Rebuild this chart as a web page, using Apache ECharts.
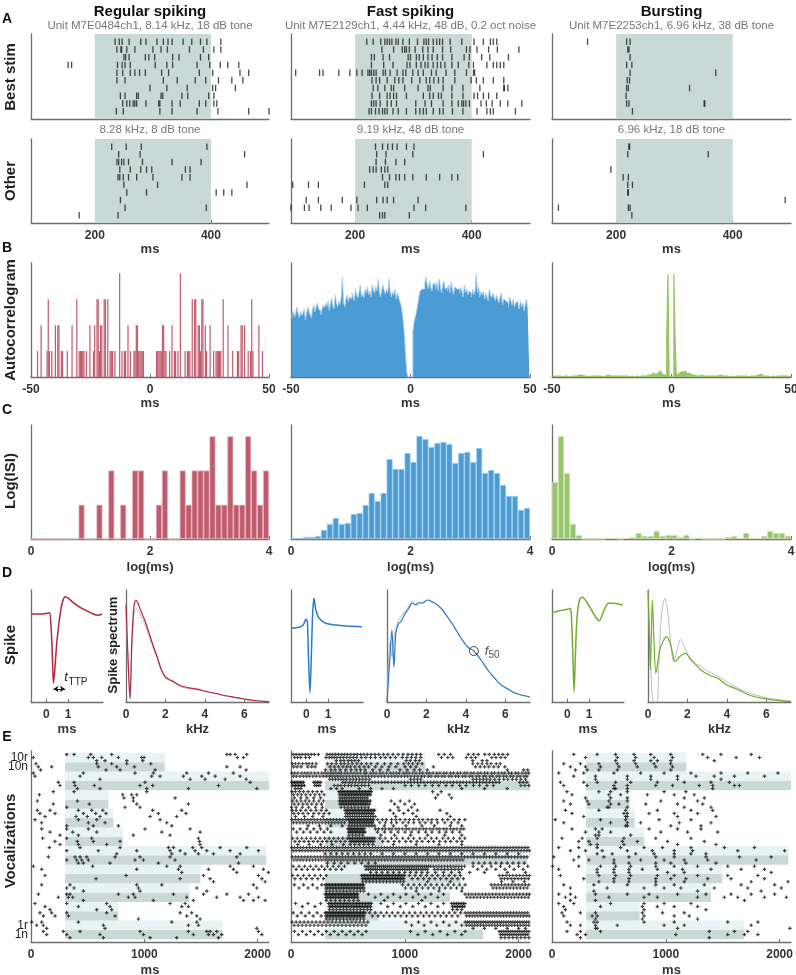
<!DOCTYPE html>
<html>
<head>
<meta charset="utf-8">
<script src="https://cdn.jsdelivr.net/npm/echarts@6/dist/echarts.min.js"></script>
<style>html,body{margin:0;padding:0;background:#fff}#chart{width:796px;height:975px}</style>
</head>
<body>
<div id="chart"></div>
<script>
const FONT = '"Liberation Sans", Arial, Helvetica, sans-serif';
const AX = '#6e6e6e';
const TXT = '#333333';
const SHADE = '#c9d9d6';
const BAR_DARK = '#cad9d6';
const BAR_LIGHT = '#e8f3f3';

const colTitles = ['Regular spiking', 'Fast spiking', 'Bursting'];
const bestTitles = ['Unit M7E0484ch1, 8.14 kHz, 18 dB tone', 'Unit M7E2129ch1, 4.44 kHz, 48 dB, 0.2 oct noise', 'Unit M7E2253ch1, 6.96 kHz, 38 dB tone'];
const otherTitles = ['8.28 kHz, 8 dB tone', '9.19 kHz, 48 dB tone', '6.96 kHz, 18 dB tone'];
const stimWin = [200, 400];

// ---- A: tone rasters, spike times (ms), one array per trial, top trial first ----
const rasterRSBest = [
  [235,242,247,259,279,288,307,318,326,333,352,367,382,393,417],
  [238,245,246,255,269,300,314,325,363,387,405,417],
  [250,253,259,287,293,303,334,345,382,396],
  [154,160,239,247,252,261,304,324,334,376,398,416,429,448],
  [238,248,261,269,277,287,315,327,380,403,450,465],
  [238,252,318,342,373,391,413,436,455],
  [295,324,359,403,408,442],
  [244,252,272,275,314,317,350,360,396,405],
  [248,255,260,266,269,272,288,310,312,333,347,380,391,405,410],
  [237,249,312,333,376,412,465,500]
];
const rasterRSOther = [
  [229,254,280,393],
  [241,278,458],
  [238,241,246,250,258,282,333,383],
  [243,261,279,289,298,356,364],
  [240,243,249,258,272,300,350,364],
  [250,308,462],
  [255,289,409,422,436],
  [244],
  [252,392],
  [173,240]
];
const rasterFSBest = [
  [220,231,244,251,255,259,263,270,274,282,293,307,318,322,326,334,340,345,350,363,383,404,420,432,437,443],
  [246,266,281,285,288,293,303,316,325,334,350,364,391,397,409,429,444,481],
  [228,233,248,259,291,295,305,310,317,325,332,341,350,366,387,396,417,431,463],
  [228,249,265,289,294,305,313,320,325,334,341,347,354,366,377,395,403,426,437,443,449,455],
  [98,139,145,172,191,203,212,222,225,228,232,236,248,252,260,272,282,287,299,308,317,331,339,356,371,391,403,405],
  [229,236,242,255,268,275,282,297,311,322,328,335,343,351,371,399,408,420,437,455],
  [231,239,251,262,266,285,308,325,329,351,366,385,414,455,456,462],
  [229,242,255,260,266,271,288,317,328,334,343,348,366,385,404,410,420,429,443],
  [228,232,236,243,255,262,271,304,320,331,351,366,377,383,386,390,396,416,425,435,449,462,486],
  [224,228,235,241,247,251,255,265,274,288,304,311,317,322,334,345,351,367,385,409,426,432,437,475]
];
const rasterFSOther = [
  [235,247,256,264,272,288,301],
  [237,253,299,420],
  [236,252,270,285],
  [225,231,236,245,251,256],
  [247,259,270,276,285,299,322,345,366,376],
  [93,120,137,216,251,256],
  [],
  [116,137,178,203,237,248,255,266,308],
  [90,113,121,141,159,193,205,221,301,321,390],
  [242,247,251,293]
];
const rasterBUBest = [
  [151,218,224],[220,222],[224],[218,227],[224,371],[219,223],[218,221,326],[217],[218,222,351,352],[228]
];
const rasterBUOther = [
  [222,223],[220,358],[],[191],[212,221],[220,228],[220,221],[490],[101,221,224],[227]
];

// ---- B: autocorrelograms, 0.5 ms bins from -50 to 50 ms ----
const acgBinStart = -50, acgBinWidth = 0.5;
const acgRS = [
  0,0,0,0,0,1,0,0,2,0, 0,0,0,1,3,1,0,1,0,0, 2,0,2,2,0,1,1,0,0,0, 1,0,0,0,2,0,0,0,3,0,
  1,1,1,1,1,0,1,0,0,2, 0,0,1,2,0,3,3,1,2,2, 0,3,3,0,3,0,1,1,1,0, 1,0,0,0,4,0,1,0,1,1,
  0,2,0,1,0,0,1,1,2,2, 1,1,1,1,1,0,0,0,0,0,
  0,0,0,0,0,1,1,1,1,1, 2,2,1,1,0,0,1,0,2,0, 1,1,0,1,0,4,0,0,0,1, 0,1,1,1,0,3,0,3,3,0,
  2,2,1,3,3,0,2,1,0,0, 2,0,0,1,0,1,1,1,1,1, 0,3,0,0,0,2,0,0,0,1, 0,0,0,1,1,0,2,2,0,2,
  0,0,1,0,1,3,1,0,0,0, 0,2,0,0,1,0,0,0,0,0
];
const acgFS = [
  58,62,66,60,64,70,63,59,66,61, 64,68,57,63,70,66,62,59,67,72,
  65,70,74,68,66,62,68,72,69,74, 70,76,66,73,79,71,68,82,74,70,
  76,72,80,100,74,70,78,82,75,80, 78,84,80,76,88,82,79,85,92,80,
  83,79,88,84,90,82,86,80,92,87, 84,90,86,98,85,80,88,92,86,83,
  88,84,98,86,80,85,82,88,78,84, 80,76,72,65,55,40,19,4,0,0,
  0,0,45,55,60,65,72,80,86,88, 90,88,94,100,92,88,96,90,86,94,
  92,88,95,86,98,90,84,92,96,88, 90,86,92,84,95,88,82,90,88,86,
  88,84,90,86,80,92,84,88,82,86, 84,80,88,82,86,103,84,90,80,85,
  82,86,78,84,80,76,88,82,79,84, 80,76,82,78,74,80,84,72,78,76,
  78,74,70,80,76,72,78,70,74,76, 72,68,76,70,74,66,72,78,68,70
];
const acgBU = [
  0,1,1,0,1,0,1,1,0,1, 1,0,1,1,0,1,1,0,1,1, 1,1,2,3,2,1,1,0,1,1, 0,1,1,0,1,1,1,0,1,0,
  1,1,0,1,1,1,2,1,1,0, 1,2,1,2,1,1,1,0,1,1, 1,0,1,1,0,1,1,1,0,1, 1,1,0,1,1,1,1,2,1,1,
  2,3,2,3,4,3,2,3,4,5, 6,4,3,2,3,2,39,103,0,0,
  0,0,103,39,2,3,4,5,6,5, 4,6,5,3,4,3,2,3,2,1, 1,2,1,1,2,1,1,0,1,1, 1,0,1,1,1,0,1,1,1,0,
  2,1,1,1,1,0,1,1,0,1, 1,1,0,1,1,1,1,0,1,1, 1,0,1,1,0,1,1,1,1,0, 1,1,2,2,3,2,1,1,1,0,
  1,1,0,1,1,1,0,1,1,0, 1,0,1,1,1,0,1,1,0,1
];

// ---- C: log ISI histograms, 0.1 bins from 0 to 4 ----
const isiBinStart = 0, isiBinWidth = 0.1;
const isiRS = [0,0,0,0,0,0,0,0,1,0, 0,1,0,2,0,1,0,2,2,0, 0,1,2,0,0,2,1,2,2,2, 3,1,1,3,1,1,3,2,1,2];
const isiFS = [1,1,2,2,3,9,15,21,15,16, 25,26,34,46,38,46,80,70,70,86, 77,103,100,92,96,97,95,76,86,87, 77,91,66,69,66,54,43,43,29,31];
const isiBU = [57,103,66,15,4,0,0,0,0,1, 1,0,1,2,6,3,3,8,3,4, 4,2,4,0,1,0,0,0,0,2, 3,1,6,1,1,3,8,6,6,3];

// ---- D: mean spike waveforms (ms) and spike spectra (kHz) ----
const spikeRS_t = [-0.68,-0.27,0.03,0.15,0.21,0.27,0.33,0.39,0.48,0.6,0.71,0.86,1.02,1.24,1.55,1.85,2.15,2.38,2.55];
const spikeRS_v = [88,88,88.7,89.3,78.7,52,18.7,32,58.7,82,97,105.3,103.7,99.3,94.7,91.3,88,86.7,88];
const spikeFS_t = [-0.68,-0.32,-0.14,-0.02,0.05,0.1,0.17,0.23,0.29,0.35,0.44,0.59,0.89,1.35,1.8,2.55];
const spikeFS_v = [73.7,74.7,77,82.7,80.3,45,9.3,45,87,103.7,92,83.7,78.7,77,76,75.3];
const spikeBU_t = [-0.7,-0.35,0.03,0.14,0.19,0.26,0.31,0.37,0.45,0.57,0.69,0.88,1.11,1.34,1.47,1.66,1.89,2.12,2.55];
const spikeBU_v = [89.3,91.3,92.7,93.7,85.3,45.3,10.3,45.3,85.3,102.7,104.7,100.3,92,83.7,81.3,90.3,98.7,98.7,97];

const specRS_f = [0,0.1,0.2,0.3,0.4,0.5,0.6,0.8,1.0,1.2,1.4,1.6,1.8,2.0,2.2,2.4,2.6,2.8,3.0,3.4,3.8,4.2,4.6,5.0,5.5,6.0,6.5,7.25];
const specRS_v = [97,45,4,62,95,102,99,89,79,67,55,44,32,25,22.5,20.5,18,16,15,13.5,12,10,8.5,6.5,4.7,3,1.5,0.3];
const specRS_ref = [88,40,3,55,86,93,92,84,75,64,53,42,31,24,21.5,19.5,17,15,14,12.5,11.5,9.5,8,6,4.5,3,1.5,0.3];
const specFS_f = [0,0.15,0.25,0.35,0.45,0.6,0.69,0.94,1.11,1.28,1.45,1.62,1.79,2.05,2.31,2.56,2.82,3.07,3.41,3.75,4.09,4.4,4.77,5.11,5.45,5.79,6.13,6.47,6.81,7.25];
const specFS_v = [0,45,72,35,69,79,80,89,94,99,97,99,99,102,100,97,92,85,75,64,55,51,42,32,24,17,13,9,7,5];
const specFS_ref = [0,60,45,62,74,82,85,91,96,101,98,100,99,102,100,97,92,85,75,64,55,51,42,32,24,17,13,9,7,5];
const specBU_f = [0,0.05,0.12,0.22,0.3,0.4,0.5,0.6,0.75,0.95,1.15,1.38,1.6,1.9,2.2,2.68,3.1,3.54,4.0,4.4,5.27,6.13,7.25];
const specBU_v = [112,78.7,32,102,62,28.7,40.3,52,60.3,65.3,57,40.3,45.3,48.7,42,32,27,23.7,17,13.7,6,2.7,0.3];
const specBURef_f = [0,0.1,0.2,0.3,0.45,0.55,0.7,0.86,1.0,1.15,1.3,1.48,1.65,1.85,2.17,2.68,3.1,3.54,4.4,5.27,6.13,7.25];
const specBURef_v = [112,60,10,0,0,40,90,103.7,90,60,40.3,52,62.7,55,42,35.3,30,26,15.3,8,3.7,1];
const f50FS = 4.4;
const ttpArrowLevel = 13;

// ---- E: vocalization rasters, rows listed top (10r) to bottom (1n), trials per row ----
const vocStart = 300;
const vocEnd = [1688, 770, 1398, 1495, 2076, 810, 726, 683, 2100, 1180]; // vocalization 1..10
// row labels split over two label sets so neighbours never collide
const eTickValsA = [0.5, 19.5], eTickLabelsA = ['1n', '10r'];
const eTickValsB = [1.5, 18.5], eTickLabelsB = ['1r', '10n'];

const eRS = [
  [[315,380,527,712,1728,1757,1801,1904],[21,506,550,624,771,977,998,1822,1875],[580,653,845,986]],
  [[44,580,712,845,1057],[65,182,594,756,912,1728,1845],[85,662,786,1095,1898]],
  [[21,462,918,1080,1374,1566,1786],[35,433,1065,1139,1345,1507,1625,1845],[609,1404,1536,1713,1898]],
  [[241,380,1006,1934],[256,388,559,962,1074,1654],[409,609,1021,1389,1992]],
  [[197,380,1021],[74,809,889,933],[821,903,1271]],
  [[56,409,903],[197,515,933,1389],[315,830,962]],
  [[56,168,418,536,633,1074,1330],[79,212,462,571,662,1124,1368],[124,397,497,609,1051,1286]],
  [[35,418,580,1139],[94,506,653,1198],[315,550,771,1242]],
  [[94,315,506,1006,1404],[168,368,580,1154,1492],[256,418,903,1227]],
  [[103,315,536,1477],[212,409,550,786,1487],[256,418,668,1492]],
  [[162,433,786,1213,1257,1427,1507,1669,1904],[315,594,933,1227,1316,1448,1551,1757,2007],[756,1242,1360,1477,1610,1845]],
  [[153,388,433,491,742,962,1227,1816],[315,403,447,506,918,992,1271],[418,462,697,1124,1831]],
  [[21,544,1198,1316,1757,1963],[94,933,1301,1566,1786,2051],[1330,1816,2095]],
  [[124,839,1522,2007],[574,1316,1580,2037],[1610,2066]],
  [[94,344,933,1154,1963],[315,380,948,1463,1992],[462,962,1551]],
  [[65,315,344,771,903,1257,1522,1728,1919],[241,330,368,859,918,1374,1639,1845,2007],[462,1080,1433,1875,1963,2066]],
  [[35,315,668,1227,1360],[124,418,697,1330,1389],[168,580,712]],
  [[79,182,315,668,1316,1418],[109,212,330,742,1374,1463],[948,1492]],
  [[6,94,418,1242,1463],[50,109,639,1389,1477],[138,653,1992]],
  [[109,285,433,962,1389,1551,1580,1639,2007],[138,315,609,992,1433,1566,1610,1683,2037],[344,639,1051,1286,1654]]
];

const eFS = [
  [[20,45,72,98,125,150,178,205,240,318,342,366,392,418,446,472,498,527,556,583,612,641,672,704,738,772,812,851,896,942,985,1028,1064,1102,1138,1298,1347,1402,1558,1604,1645,1703,1742,1786,1824,1861,1903],
   [32,58,86,128,162,308,336,358,381,404,433,461,489,518,548,577,619,657,698,741,788,829,873,918,978,1018,1058,1097,1141,1322,1378,1421,1541,1583,1622,1764,1801,1843,1882],
   [398,437,466,503,532,561,594,1012,1047,1093,1128,1597,1681,1722]],
  [[12,38,68,101,133,158,187,221,322,358,397,438,468,502,538,579,618,663,703,758,821,877,938,991,1032,1069,1112,1152,1598,1641,1679,1722,1758,1803,1838],
   [24,54,88,148,182,211,343,381,418,456,491,522,561,601,642,681,742,798,861,921,1002,1051,1098,1252,1621,1662,1701,1739,1781,1822,1879],
   [302,352,388,432,481,528,572,611,652,718,782,852,958,1021,1083,1131,1198,1902,2045,2080]],
  [[8,33,61,94,122,148,176,208,238,271,298,324,349,371,396,421,443,472,498,526,553,581,609,642,663,696,722,748,781,808,839,872,899,927,953,986,1011,1038,1071,1099,1131,1158,1192,1219,1248,1281,1309,1342,1368,1401,1428,1461,1489,1522,1548,1581,1608,1642,1669,1701,1728,1762,1789,1821,1852,1878,1912,1938,1972,1998,2031,2062,2088],
   [21,47,79,108,136,162,193,222,254,284,311,337,360,384,408,432,458,485,512,540,567,595,625,652,680,709,735,765,794,823,855,885,913,940,970,998,1025,1054,1085,1115,1147,1173,1206,1231,1267,1293,1326,1352,1387,1413,1446,1472,1507,1533,1566,1592,1627,1653,1688,1712,1747,1773,1808,1834,1867,1893,1927,1952,1987,2013,2047,2073],
   [340,365,390,415,440,465,490,520,548,575,603,632,660,690,1050,1080,1110,1140,1600,1630,1660,1690,1720,1750,1790,1830,1870,1905,1945,1980,2020,2060]],
  [[5,18,31,44,57,70,83,96,109,200,215,232,246,262,455,481,512,538,566,597,623,651,683,712,738,767,798,826,852,884,912,941,968,997,1027,1054,1083,1112,1141,1168,1198,1227,1256,1283,1313,1342,1371,1399,1428,1457,1486,1513,1542,1571,1600,1628,1657,1686,1714,1743,1772,1801,1829,2010,2040,2072],
   [12,26,39,52,65,78,91,104,118,208,224,240,255,380,412,438,471,503,529,562,588,621,649,682,1003,1058,1122,1179,1243,1298,1362,1417,1482,1538,1603,1657,1722,1778,2020,2055,2090],
   [36,62,88,350,400,450,600,700,800,900,1500,1700,1900]],
  [[10,40,75,110,150,190,230,270,420,433,446,459,472,485,498,511,524,537,550,563,576,589,602,615,628,641,654,667,680,693,706,1245,1320],
   [22,58,92,130,170,210,250,290,426,440,453,466,479,492,505,518,531,544,557,570,583,596,609,622,635,648,661,674,687,700,1290,1390],
   [30,85,140,200,260,430,450,470,490,510,530,550,570,590,610,630,650,670,1270,1410]],
  [[15,50,88,125,160,200,245,285,425,438,451,464,477,490,503,516,529,542,555,568,581,594,607,620,633,646,659,672,685,698,880,960,1040],
   [28,66,105,142,182,225,268,430,445,460,475,490,505,520,535,550,565,580,595,610,625,640,655,670,690,910,1000,1085],
   [5,45,100,155,215,275,440,470,500,530,560,590,620,650,680,940,1060]],
  [[10,45,85,130,175,220,265,310,475,488,501,514,527,540,553,566,579,592,605,618,631,644,657,670,683,696,709,722,735,870,950,1030,1110,1310],
   [25,65,105,150,200,245,290,335,482,497,512,527,542,557,572,587,602,617,632,647,662,677,692,707,722,900,990,1070,1370],
   [40,120,190,280,480,500,520,540,560,580,600,620,640,660,680,700,720,740,920,1100,1400]],
  [[8,36,64,92,120,148,176,204,232,260,288,316,344,372,400,428,456,484,505,518,531,544,557,570,583,596,609,622,635,648,661,674,687,700,713,726,762,803,838,884,921,958,1003,1041,1079,1122,1158,1203,1238,1281,1332,1378,1433,1479,1528],
   [22,50,78,106,134,162,190,218,246,274,302,330,358,386,414,442,470,512,527,542,557,572,587,602,617,632,647,662,677,692,707,722,781,829,882,928,983,1031,1078,1133,1179,1232,1288,1352,1409,1468],
   [150,250,350,450,510,535,560,585,610,635,660,685,710,735,820,900,1010,1150,1260,1400,1500]],
  [[20,80,140,200,260,320,500,512,524,536,548,560,572,584,596,608,620,632,644,742,768,803,829,861,888,922,949,981,1012,1038,1072,1099,1131,1162,1188,1221,1249,1282,1308,1341,1369,1402,1431,1458,1492,1518],
   [50,110,170,230,290,350,506,518,530,542,554,566,578,590,602,614,626,638,650,760,822,878,941,1002,1058,1121,1183,1238,1302,1361,1418,1482],
   [510,540,570,600,630,790,910,1050,1200,1350,1500]],
  [[15,55,95,135,175,215,255,295,335,375,415,455,495,510,525,540,555,570,585,600,615,630,645,660,675,690,705,720,735,781,828,883,929,982,1031,1077,1132,1178,1233,1279,1334,1381,1428,1483,1527],
   [35,75,115,155,195,235,275,315,355,395,435,475,518,533,548,563,578,593,608,623,638,653,668,683,698,713,728,806,853,907,952,1008,1053,1107,1152,1208,1253,1306,1357,1403,1458,1502],
   [60,160,260,360,460,520,560,600,640,680,720,900,1100,1300,1500]],
  [[6,31,58,84,109,137,163,188,215,241,268,294,321,347,372,399,425,452,478,503,531,557,582,609,636,661,688,714,741,766,793,820,845,872,898,924,951,977,1003,1029,1056,1082,1108,1135,1161,1187,1214,1240,1266,1292,1319,1345,1371,1398,1424,1450,1477,1503,1529,1556,1582,1608,1635,1661,1687,1714,1740,1766,1793,1819,1845,1872,1898,1924,1951,1977,2003,2030,2056,2082],
   [19,45,72,97,124,150,176,203,229,255,282,308,334,361,387,413,440,466,492,519,545,571,598,624,650,677,703,729,756,782,808,835,861,887,914,940,966,993,1019,1045,1072,1098,1124,1151,1177,1203,1230,1256,1282,1309,1335,1361,1388,1414,1440,1467,1493,1519,1546,1572,1598,1625,1651,1677,1704,1730,1756,1783,1809,1835,1862,1888,1914,1941,1967,1993,2020,2046,2072,2095],
   [300,350,400,450,500,550,600,650,700,800,900,1000,1100,1200,1300,1400,1500,1600,1700,1800,1900,2000]],
  [[12,40,66,94,121,148,175,203,230,258,286,313,341,368,396,424,451,479,506,534,561,589,616,644,671,699,726,754,781,809,837,864,892,919,947,974,1002,1029,1057,1084,1112,1139,1167,1194,1222,1249,1277,1304,1332,1359,1387,1414,1442,1469,1497,1525,1552,1580,1607,1635,1662,1690,1717,1745,1772,1800,1827,1855,1882,1910,1937,1965,1992,2020,2047,2075],
   [26,53,80,107,135,162,189,216,244,271,299,326,354,382,409,437,464,492,520,547,575,602,630,657,685,712,740,767,795,823,850,878,905,933,960,988,1015,1043,1070,1098,1125,1153,1180,1208,1235,1263,1290,1318,1345,1373,1400,1428,1455,1483,1510],
   [320,380,440,500,560,620,680,740,1600,1650,1700,1750,1800,1850,1900,1950,2000,2050]],
  [[20,70,120,170,220,270,320,370,420,470,650,668,686,704,722,740,758,776,794,812,830,848,866,884,902,920,938,956,974,992,1010,1028,1046,1064,1082,1100,1118,1136,1154,1172,1190,1208,1226,1250,1275,1300,1325,1350,1375,1400,1425,1450,1475,1500,1525,1600,1680,1760,1840,1920,2000,2080],
   [45,95,145,195,245,295,345,395,445,660,680,700,720,740,760,780,800,820,840,860,880,900,920,940,960,980,1000,1020,1040,1060,1080,1100,1120,1140,1160,1180,1200,1260,1290,1320,1350,1380,1410,1440,1470,1500,1640,1720,1800,1880,1960,2040],
   [700,750,800,850,900,950,1000,1050,1100,1150,1200,1270,1340,1410,1480,1570,1700,1900,2060]],
  [[15,60,110,160,210,260,310,620,633,646,659,672,685,698,711,724,737,750,763,776,789,802,815,828,841,854,867,880,893,906,919,932,945,958,971,984,997,1040,1090,1140,1190,1240,1290,1340,1390,1440,1490,1830,1860,1890,1920,1950,1980,2010,2040,2070,2095],
   [35,85,135,185,235,285,627,641,655,669,683,697,711,725,739,753,767,781,795,809,823,837,851,865,879,893,907,921,935,949,963,977,991,1065,1115,1165,1215,1265,1315,1365,1415,1465,1515,1845,1875,1905,1935,1965,1995,2025,2055,2085],
   [630,660,690,720,750,780,810,840,870,900,930,960,990,1200,1400,1850,1950,2050]],
  [[30,110,190,270,300,313,326,339,352,365,378,391,404,417,430,443,456,469,482,495,508,521,534,547,560,573,586,599,612,625,638,980,1030,1080,1130,1180,1230,1280,1330,1380,1430,1480,1530,1760,1790,1820,1850,1880,1910,1940,1970,2000,2030,2060,2090],
   [70,150,230,306,320,334,348,362,376,390,404,418,432,446,460,474,488,502,516,530,544,558,572,586,600,614,628,642,1005,1055,1105,1155,1205,1255,1305,1355,1405,1455,1505,1775,1805,1835,1865,1895,1925,1955,1985,2015,2045,2075],
   [310,340,370,400,430,460,490,520,550,580,610,640,1100,1300,1500]],
  [[300,313,326,339,352,365,378,391,404,417,430,443,456,469,482,495,508,521,534,547,560,573,586,680,790,900,1010,1120,1230,1340,1530,1560,1590,1620,1650,1680,1710,1740,1770,1800,1830,1860,1890,1920,1950,1980,2010,2040,2070,2095],
   [306,320,334,348,362,376,390,404,418,432,446,460,474,488,502,516,530,544,558,572,586,740,850,960,1070,1180,1290,1545,1575,1605,1635,1665,1695,1725,1755,1785,1815,1845,1875,1905,1935,1965,1995,2025,2055,2085],
   [310,350,390,430,470,510,550,590,820,1150]],
  [[40,150,260,330,343,356,369,382,395,408,421,434,447,460,473,486,499,512,525,538,551,564,577,590,603,616,629,642,655,668,681,694,707,790,900,1010,1120,1230,1340,1410,1425,1440,1455,1470,1485,1500,1515,1530],
   [100,210,336,350,364,378,392,406,420,434,448,462,476,490,504,518,532,546,560,574,588,602,616,630,644,658,672,686,700,850,960,1070,1180,1290,1418,1433,1448,1463,1478,1493,1508,1523],
   [340,370,400,430,460,490,520,550,580,610,640,670,700,1420,1460,1500]],
  [[20,90,160,230,300,313,326,339,352,365,378,391,404,417,430,443,456,469,482,495,508,521,534,547,560,573,586,599,612,625,638,651,690,740,790,840,890,940,990,1040,1090,1140,1190,1240,1290,1340,1390,1440,1490,1530,1555,1580,1605,1630,1655,1680,1705,1730,1755,1780,1805,1830,1855,1880,1905,1930,1955,1980,2005,2030,2055,2080],
   [55,125,195,265,306,320,334,348,362,376,390,404,418,432,446,460,474,488,502,516,530,544,558,572,586,600,614,628,642,715,765,815,865,915,965,1015,1065,1115,1165,1215,1265,1315,1365,1415,1465,1542,1567,1592,1617,1642,1667,1692,1717,1742,1767,1792,1817,1842,1867,1892,1917,1942,1967,1992,2017,2042,2067,2092],
   [310,340,370,400,430,460,490,520,550,580,610,640]],
  [[10,45,80,115,150,185,220,255,290,325,360,395,430,465,500,535,570,605,640,675,1010,1120,1230,1340,1450,1530,1550,1570,1590,1610,1630,1650,1670,1690,1710,1730,1750,1770,1790,1810,1830,1850,1870,1890,1910,1930,1950,1970,1990,2010,2030,2050,2070,2090],
   [28,63,98,133,168,203,238,273,308,343,378,413,448,483,518,553,588,623,658,1060,1170,1280,1390,1500,1540,1565,1590,1615,1640,1665,1690,1715,1740,1765,1790,1815,1840,1865,1890,1915,1940,1965,1990,2015,2040,2065,2090],
   [1600,1700,1800,1900,2000,2060]],
  [[30,100,170,240,310,380,450,520,590,660,1050,1180,1310,1440,1530,1830,1850,1870,1890,1910,1930,1950,1970,1990,2010,2030,2050,2070,2090],
   [65,135,205,275,345,415,485,555,625,1115,1245,1375,1500,1840,1860,1880,1900,1920,1940,1960,1980,2000,2020,2040,2060,2080],
   [1845,1880,1915,1950,1985,2020,2055,2090]]
];

const eBU = [
  [[191,397,559,721,868,1044,1324,1485,1750],[294,574,735,897,1059,1368,1618,1823],[559,721,868,926,1044,1426]],
  [[103,250,412,574,735,897,1044],[162,294,426,588,750,912,1059],[206,309,412,574,1044]],
  [[59,279,544,779,985,1221,1485,1720,1985],[191,382,662,868,1103,1265,1426,1603,1867],[382,662,868,1103,1485]],
  [[74,279,397,559,691,926,1162,1397,1559],[103,309,544,662,912,1059,1294,1412,1603,1647],[544,559,662,1412]],
  [[132,412,515,662,985,1176],[176,500,603,838,1074,1250],[294,515,662,1162,1338]],
  [[103,309,500,662,956,1279],[162,324,515,588,824,1103,1324],[485,500,662,1162,1397]],
  [[118,412,647,926,1221,1412],[176,632,662,853,1074,1279],[279,647,662,1103,1441]],
  [[29,426,647,941,1221],[103,515,662,779,1118,1397],[647,662,1044,1309]],
  [[176,382,441,853,1103,1309],[294,412,515,956,1191,1456],[382,412,691]],
  [[88,265,397,632,912,1221],[235,324,618,750,1015,1338],[338,397,632,1103,1441]],
  [[59,235,397,603,809,971,1221,1515,1779],[162,294,441,662,882,1074,1235,1632,2044],[397,529,735,897,1074,1221,1353]],
  [[15,235,456,676,912,1074,1353,1647,1926],[191,324,544,779,985,1162,1368,1794],[544,676,912,1044,1176,1441]],
  [[5,235,426,559,691,912,1074,1279,1544,1779],[59,397,544,676,794,926,1147,1397,1662,1867],[397,544,676,1015,1162,1926]],
  [[74,412,559,691,926,1074,1279,1544,1809],[279,544,676,912,1044,1176,1368,1573,1867],[412,544,676,912,1162,1750,2074]],
  [[103,368,662,912,1074,1338,1662,1956],[162,485,809,985,1132,1426,1720,2015],[368,1279,1838]],
  [[59,162,382,662,853,1103,1353,1573,1750,1956],[118,206,500,809,926,1279,1515,1632,1867,2059],[162,382,1691]],
  [[59,191,515,809,985,1221],[103,426,794,926,1074,1279],[118,809,1353]],
  [[88,250,382,794,971,1162],[103,353,397,809,1074,1206],[382,794,1279]],
  [[132,368,397,809,1074,1544,1809],[162,250,382,574,985,1162,1750],[382,397,1103,2090]],
  [[132,250,426,1382,1603,1720],[221,294,1088,1544,1691,1809],[250,1382]]
];

// ---- layout ----
const cols = [{ left: 31, width: 238 }, { left: 291, width: 239 }, { left: 552, width: 239 }];
const COLORS = [
  { bar: '#bf5b6c', edge: '#e8b7c0', line: '#b3243d' },
  { bar: '#4b9bd4', edge: '#a3cdec', line: '#2b7cc4' },
  { bar: '#97c56b', edge: '#d2e6bb', line: '#6fae2c' }
];
const GREY = '#bdbdbd';

const grids = [], xAxes = [], yAxes = [], series = [];
const labelOnlyAxes = [];

function labelStyle() {
  return { color: TXT, fontFamily: FONT, fontWeight: 'bold', fontSize: 12, margin: 7,
    showMinLabel: true, showMaxLabel: true, formatter: v => String(v) };
}
function addPanel(left, top, width, height, xmin, xmax, ticks, name, nameGap, ymin, ymax) {
  const gi = grids.length;
  grids.push({ left: left, top: top, width: width, height: height, containLabel: false, outerBoundsMode: 'none' });
  xAxes.push({
    type: 'value', gridIndex: gi, min: xmin, max: xmax,
    axisLine: { show: true, onZero: false, lineStyle: { color: AX, width: 1.3 } },
    axisTick: ticks ? { show: true, inside: true, length: 3, customValues: ticks, lineStyle: { color: AX } } : { show: false },
    axisLabel: ticks ? Object.assign({ show: true, customValues: ticks }, labelStyle()) : { show: false },
    splitLine: { show: false },
    name: name || '', nameLocation: 'middle', nameGap: nameGap || 20,
    nameTextStyle: { color: TXT, fontFamily: FONT, fontWeight: 'bold', fontSize: 13 }
  });
  yAxes.push({
    type: 'value', gridIndex: gi, min: ymin, max: ymax,
    axisLine: { show: true, onZero: false, lineStyle: { color: AX, width: 1.3 } },
    axisTick: { show: false }, axisLabel: { show: false }, splitLine: { show: false }
  });
  return gi;
}
function rasterData(trials) {
  return trials.flatMap((times, i) => times.map(t => [t, trials.length - i]));
}
function binned(counts, start, width) {
  return counts.map((c, i) => [start + (i + 0.5) * width, c]);
}
function zip(xs, ys) {
  return xs.map((x, i) => [x, ys[i]]);
}
function vocData(rows) {
  const out = [];
  rows.forEach((trials, r) => {
    const base = rows.length - 1 - r;
    trials.forEach((times, j) => {
      times.forEach(t => out.push([t, base + 1 - (j + 0.5) / trials.length]));
    });
  });
  return out;
}

// A
[[rasterRSBest, rasterRSOther], [rasterFSBest, rasterFSOther], [rasterBUBest, rasterBUOther]].forEach((pair, c) => {
  pair.forEach((trials, r) => {
    const gi = addPanel(cols[c].left, r ? 139 : 34, cols[c].width, r ? 84 : 85, 90, 500,
      r ? [200, 400] : null, r ? 'ms' : '', 14.5, 0, 11);
    series.push({
      type: 'scatter', xAxisIndex: gi, yAxisIndex: gi, data: [], z: 1, silent: true,
      markArea: { silent: true, itemStyle: { color: SHADE }, data: [[{ xAxis: stimWin[0] }, { xAxis: stimWin[1] }]] }
    });
    series.push({
      type: 'scatter', xAxisIndex: gi, yAxisIndex: gi, z: 3, silent: true,
      symbol: 'rect', symbolSize: [1.3, 6.5], itemStyle: { color: '#1c1c1c' },
      data: rasterData(trials)
    });
  });
});

// B
[acgRS, acgFS, acgBU].forEach((counts, c) => {
  const ymax = c === 0 ? 4.4 : 114;
  const gi = addPanel(cols[c].left, 263, cols[c].width, 114, -50, 50, [-50, 0, 50], 'ms', 19.5, 0, ymax);
  const data = binned(counts, acgBinStart, acgBinWidth);
  if (c === 0) {
    series.push({ type: 'bar', xAxisIndex: gi, yAxisIndex: gi, barWidth: 1.2, silent: true,
      itemStyle: { color: COLORS[c].bar }, data: data });
  } else {
    series.push({ type: 'line', xAxisIndex: gi, yAxisIndex: gi, step: 'middle', symbol: 'none', silent: true,
      lineStyle: { color: c === 1 ? COLORS[c].edge : COLORS[c].bar, width: c === 1 ? 0.8 : 1.2 },
      areaStyle: { color: COLORS[c].bar, opacity: 1 }, data: data });
  }
});

// C
[isiRS, isiFS, isiBU].forEach((counts, c) => {
  const ymax = c === 0 ? 3.33 : 114;
  const gi = addPanel(cols[c].left, 425, cols[c].width, 114, 0, 4, [0, 2, 4], 'log(ms)', 21.5, 0, ymax);
  series.push({ type: 'bar', xAxisIndex: gi, yAxisIndex: gi, barWidth: cols[c].width / 40, silent: true,
    itemStyle: { color: COLORS[c].bar, borderColor: COLORS[c].edge, borderWidth: 0.7 },
    data: binned(counts, isiBinStart, isiBinWidth) });
});

// D
const spikes = [[spikeRS_t, spikeRS_v], [spikeFS_t, spikeFS_v], [spikeBU_t, spikeBU_v]];
const spectra = [
  { ref: zip(specRS_f, specRS_ref), main: zip(specRS_f, specRS_v) },
  { ref: zip(specFS_f, specFS_ref), main: zip(specFS_f, specFS_v) },
  { ref: zip(specBURef_f, specBURef_v), main: zip(specBU_f, specBU_v) }
];
const spikeLeft = [31, 291, 552], specLeft = [126, 387, 648];
[0, 1, 2].forEach(c => {
  const gs = addPanel(spikeLeft[c], 590, 72, 112, -0.7, 2.6, [0, 1], 'ms', 20.5, 0, 112);
  const [tt, vv] = spikes[c];
  const spikeSeries = { type: 'line', xAxisIndex: gs, yAxisIndex: gs, symbol: 'none', smooth: 0.3, silent: true,
    lineStyle: { color: COLORS[c].line, width: 1.5 }, data: zip(tt, vv) };
  if (c === 0) {
    const tMin = tt[vv.indexOf(Math.min(...vv))];
    const tMax = tt[vv.indexOf(Math.max(...vv))];
    spikeSeries.markLine = { silent: true, symbol: ['arrow', 'arrow'], symbolSize: 5,
      lineStyle: { color: '#111', width: 1, type: 'solid' }, label: { show: false },
      data: [[{ coord: [tMin, ttpArrowLevel] }, { coord: [tMax, ttpArrowLevel] }]] };
  }
  series.push(spikeSeries);

  const gf = addPanel(specLeft[c], 590, 143, 112, 0, 7.25, [0, 2, 4, 6], 'kHz', 20.5, 0, 112);
  series.push({ type: 'line', xAxisIndex: gf, yAxisIndex: gf, symbol: 'none', smooth: 0.3, silent: true,
    lineStyle: { color: GREY, width: 1 }, data: spectra[c].ref });
  series.push({ type: 'line', xAxisIndex: gf, yAxisIndex: gf, symbol: 'none', smooth: 0.3, silent: true,
    lineStyle: { color: COLORS[c].line, width: 1.2 }, data: spectra[c].main });
  if (c === 1) {
    series.push({ type: 'scatter', xAxisIndex: gf, yAxisIndex: gf, z: 5, silent: true,
      symbol: 'circle', symbolSize: 9,
      itemStyle: { color: 'rgba(0,0,0,0)', borderColor: '#222', borderWidth: 1 },
      label: { show: true, position: 'right', distance: 6, formatter: '{i|f}{s|50}',
        rich: { i: { fontFamily: FONT, fontStyle: 'italic', fontSize: 13, color: '#222' },
                s: { fontFamily: FONT, fontSize: 10, color: '#222', padding: [8, 0, 0, 0] } } },
      data: [[f50FS, specFS_v[specFS_f.indexOf(f50FS)]]] });
  }
});

// E
const plusSymbol = 'path://M1 0h1v1h1v1h-1v1h-1v-1h-1v-1h1z';
const vocAreas = [];
vocEnd.forEach((end, i) => {
  vocAreas.push([{ coord: [vocStart, 2 * i], itemStyle: { color: BAR_DARK } }, { coord: [end, 2 * i + 1] }]);
  vocAreas.push([{ coord: [vocStart, 2 * i + 1], itemStyle: { color: BAR_LIGHT } }, { coord: [end, 2 * i + 2] }]);
});
function rowLabelAxis(gi, vals, labels) {
  return { type: 'value', gridIndex: gi, min: -0.3, max: 20.2, position: 'left',
    axisLine: { show: false }, axisTick: { show: false }, splitLine: { show: false },
    axisLabel: { show: true, customValues: vals, color: '#222', fontFamily: FONT, fontSize: 12, margin: 3,
      showMinLabel: true, showMaxLabel: true,
      formatter: v => labels[vals.indexOf(v)] || '' } };
}
[eRS, eFS, eBU].forEach((rows, c) => {
  const gi = addPanel(cols[c].left, 751, cols[c].width, 191, 0, 2100, [0, 1000, 2000], 'ms', 21.5, -0.3, 20.2);
  if (c === 0) {
    yAxes[gi].axisLabel = rowLabelAxis(gi, eTickValsA, eTickLabelsA).axisLabel;
    labelOnlyAxes.push(rowLabelAxis(gi, eTickValsB, eTickLabelsB));
  }
  series.push({ type: 'scatter', xAxisIndex: gi, yAxisIndex: gi, data: [], z: 1, silent: true,
    markArea: { silent: true, data: vocAreas } });
  series.push({ type: 'scatter', xAxisIndex: gi, yAxisIndex: gi, z: 3, silent: true,
    symbol: plusSymbol, symbolSize: 3.5, itemStyle: { color: '#111' }, data: vocData(rows) });
});

// text
function txt(x, y, text, font, fill, rot) {
  return { type: 'text', x: x, y: y, rotation: rot || 0, silent: true,
    style: { text: text, font: font, fill: fill || '#111', align: 'center', verticalAlign: 'middle',
      textAlign: 'center', textVerticalAlign: 'middle' } };
}
const B15 = 'bold 15px ' + FONT;
const graphics = [
  txt(7, 19, 'A', 'bold 14px ' + FONT), txt(7, 248, 'B', 'bold 14px ' + FONT), txt(7, 410, 'C', 'bold 14px ' + FONT),
  txt(7, 573, 'D', 'bold 14px ' + FONT), txt(7, 737, 'E', 'bold 14px ' + FONT),
  txt(11, 77, 'Best stim', B15, '#222', Math.PI / 2),
  txt(11, 181, 'Other', B15, '#222', Math.PI / 2),
  txt(11, 320, 'Autocorrelogram', B15, '#222', Math.PI / 2),
  txt(11, 481, 'Log(ISI)', B15, '#222', Math.PI / 2),
  txt(11, 645, 'Spike', B15, '#222', Math.PI / 2),
  txt(113, 645, 'Spike spectrum', 'bold 13px ' + FONT, '#222', Math.PI / 2),
  txt(11, 841, 'Vocalizations', B15, '#222', Math.PI / 2),
  txt(66, 677, 't', 'italic 13px ' + FONT, '#222'),
  txt(78, 682, 'TTP', '10px ' + FONT, '#222')
];
cols.forEach((col, c) => {
  const cx = col.left + col.width / 2;
  graphics.push(txt(cx, 12, colTitles[c], 'bold 15px ' + FONT, '#111'));
  graphics.push(txt(cx, 26, bestTitles[c], '11.5px ' + FONT, '#777'));
  graphics.push(txt(cx, 130, otherTitles[c], '11.5px ' + FONT, '#777'));
});

const chart = echarts.init(document.getElementById('chart'), null, { renderer: 'canvas' });
chart.setOption({
  animation: false,
  backgroundColor: '#ffffff',
  textStyle: { fontFamily: FONT },
  grid: grids,
  xAxis: xAxes,
  yAxis: yAxes.concat(labelOnlyAxes),
  series: series,
  graphic: { elements: graphics }
});
</script>
</body>
</html>
